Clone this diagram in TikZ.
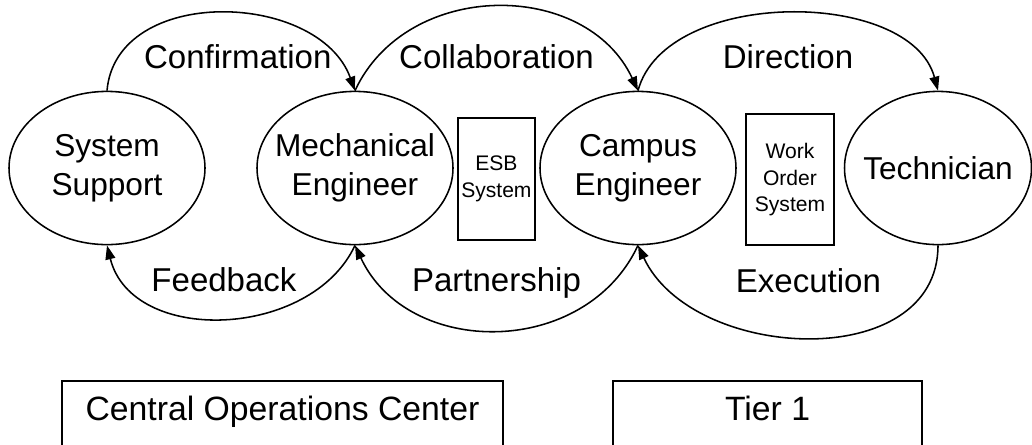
\documentclass[tikz,border=0pt]{standalone}
\usepackage{fontspec}
\setmainfont{Liberation Sans}
\usetikzlibrary{arrows.meta, positioning, shapes.geometric}

\begin{document}
\begin{tikzpicture}[node distance=6.2cm, >={Triangle[length=10pt,width=7pt]}, line width=1.1pt,
    role/.style={ellipse, draw, minimum width=4.9cm, minimum height=3.83cm, inner sep=0pt, inner xsep=-1cm, align=center, font=\fontsize{22.5}{28}\selectfont},
    sys/.style={rectangle, draw, line width=0.9pt, inner sep=0pt, align=center, font=\fontsize{15}{19}\selectfont},
    lbl/.style={font=\fontsize{23.5}{28}\selectfont},
    tier/.style={rectangle, draw, anchor=north, font=\fontsize{24}{28}\selectfont, text height=17pt, text depth=40pt, inner ysep=11pt}]
            \useasboundingbox (0,0) rectangle (25.8,-11.1);
            \node[role] (1) at (2.675,-4.2) {System\\Support};
            \node[role] (2) [right of=1] {Mechanical\\Engineer};
            \node[role] (3) [right of=2, node distance=7.075cm] {Campus\\Engineer};
            \node[role, minimum width=4.675cm] (4) [right of=3, node distance=7.5cm] {Technician};
            \node[sys, minimum width=1.925cm, minimum height=3.05cm] (5) at (12.41,-4.475) {ESB\\System};
            \node[sys, minimum width=2.2cm, minimum height=3.275cm] (6) at (19.75,-4.49) {Work\\Order\\System};
            \node[tier, minimum width=11.025cm] (7) at (7.0625,-9.5) {Central Operations Center};
            \node[tier, minimum width=7.725cm] (8) at (19.19,-9.5) {Tier 1};

            \draw[->] (1.north) to [out=85, in=110, looseness=1.1] node[lbl, pos=0.55, below=17.5pt] {Confirmation} (2.north);
            \draw[->] (2.north) to [out=65, in=115, looseness=1.115] node[lbl, midway, below=23pt] {Collaboration} (3.north);
            \draw[->] (3.north) to [out=75, in=105, looseness=0.91] node[lbl, midway, below=18pt] {Direction} (4.north);
            \draw[->] (2.south) to [out=-115, in=-76, looseness=1.07] node[lbl, midway, above=15pt] {Feedback} (1.south);
            \draw[->] (3.south) to [out=-115, in=-65, looseness=1.13] node[lbl, midway, above=19pt] {Partnership} (2.south);
            \draw[->] (4.south) to [out=-90, in=-65, looseness=1.1] node[lbl, midway, above=28pt] {Execution} (3.south);
        \end{tikzpicture}
\end{document}
